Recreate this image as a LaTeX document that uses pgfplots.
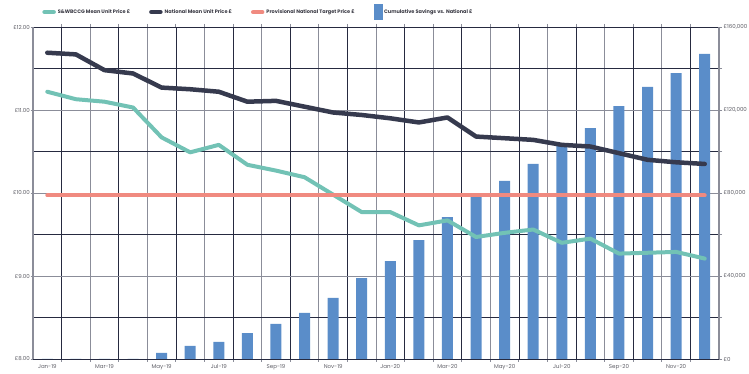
\documentclass[border=0pt]{standalone}
\usepackage{fontspec}
\setmainfont{Poppins}
\usepackage{pgfplots}
\pgfplotsset{compat=1.18}

\definecolor{tealc}{HTML}{72C2B5}
\definecolor{navy}{HTML}{363A4E}
\definecolor{salmon}{HTML}{F08A80}
\definecolor{barblue}{HTML}{5A8DC9}
\definecolor{gdark}{HTML}{262A40}
\definecolor{ggray}{HTML}{8B8D99}
\definecolor{lbl}{HTML}{5E5E66}
\definecolor{legtext}{HTML}{3A3A44}

\begin{document}
\begin{tikzpicture}[x=1pt,y=1pt]
\begin{axis}[
  at={(33pt,15pt)}, anchor=south west,
  scale only axis, width=686pt, height=332pt,
  xmin=-0.5, xmax=23.5, ymin=0, ymax=160000,
  scaled y ticks=false,
  separate axis lines,
  x axis line style={gdark, line width=0.9pt},
  y axis line style={ggray, line width=1.2pt},
  xtick={1.5,3.5,...,21.5}, minor xtick={0.5,2.5,...,22.5},
  xticklabels={},
  ytick={0,40000,...,160000}, minor ytick={20000,60000,100000,140000},
  ytick pos=right,
  yticklabel pos=right,
  yticklabels={£0,{£40,000},{£80,000},{£120,000},{£160,000}},
  yticklabel style={font=\fontsize{5.5}{6}\selectfont, color=lbl, anchor=west, inner sep=0.5pt, xshift=1pt},
  grid=both,
  major grid style={ggray, line width=0.9pt},
  minor grid style={gdark, line width=0.8pt},
  tick align=outside,
  major tick length=3pt, minor tick length=3pt,
  every tick/.style={ggray, line width=0.9pt},
  extra x ticks={0,2,...,22},
  extra x tick labels={Jan-19,Mar-19,May-19,Jul-19,Sep-19,Nov-19,Jan-20,Mar-20,May-20,Jul-20,Sep-20,Nov-20},
  extra x tick style={major tick length=0pt, grid=none,
    xticklabel style={font=\fontsize{5.5}{6}\selectfont, color=lbl, yshift=-2pt}},
]
\addplot[ybar, bar width=0.385, bar shift=0pt, fill=barblue, draw=none] coordinates {
(0,0) (1,0) (2,0) (3,0) (4,2900) (5,6300) (6,8200) (7,12500) (8,16900) (9,22200)
(10,29400) (11,39000) (12,47200) (13,57300) (14,68400) (15,78500) (16,85800)
(17,94000) (18,102800) (19,111300) (20,121900) (21,131100) (22,137800) (23,147000)};
\end{axis}

\begin{axis}[
  at={(33pt,15pt)}, anchor=south west,
  scale only axis, width=686pt, height=332pt,
  xmin=-0.5, xmax=23.5, ymin=8, ymax=12,
  axis x line=none, axis y line*=left,
  y axis line style={ggray, line width=1.2pt},
  ytick={8,9,10,11,12}, yticklabels={£8.00,£9.00,£10.00,£11.00,£12.00},
  tick align=outside, major tick length=2.5pt,
  ytick style={ggray, line width=0.8pt},
  yticklabel style={font=\fontsize{5.5}{6}\selectfont, color=lbl, inner sep=0.5pt},
  legend columns=4,
  legend cell align=left,
  legend style={at={(0.009,1.045)}, anchor=west, draw=none, fill=none,
    font=\fontsize{5}{6}\selectfont\bfseries, text=legtext,
    /tikz/every even column/.append style={column sep=17pt}},
]
\addplot[tealc, line width=4pt, line join=round, line cap=round,
  legend image code/.code={\draw[tealc, line width=4.5pt, line cap=round] (0pt,0pt) -- (9pt,0pt);}]
coordinates {
(0,11.22) (1,11.13) (2,11.10) (3,11.03) (4,10.67) (5,10.49) (6,10.58) (7,10.34)
(8,10.27) (9,10.19) (10,9.98) (11,9.77) (12,9.77) (13,9.61) (14,9.67) (15,9.47)
(16,9.52) (17,9.56) (18,9.40) (19,9.45) (20,9.27) (21,9.28) (22,9.29) (23,9.21)};
\addlegendentry{S\&WBCCG Mean Unit Price £}
\addplot[navy, line width=4.5pt, line join=round, line cap=round,
  legend image code/.code={\draw[navy, line width=4.5pt, line cap=round] (0pt,0pt) -- (9pt,0pt);}]
coordinates {
(0,11.69) (1,11.67) (2,11.48) (3,11.44) (4,11.27) (5,11.25) (6,11.22) (7,11.10)
(8,11.11) (9,11.04) (10,10.97) (11,10.94) (12,10.90) (13,10.85) (14,10.91) (15,10.68)
(16,10.66) (17,10.64) (18,10.58) (19,10.56) (20,10.48) (21,10.40) (22,10.37) (23,10.35)};
\addlegendentry{National Mean Unit Price £}
\addplot[salmon, line width=4pt, line cap=round,
  legend image code/.code={\draw[salmon, line width=4.5pt, line cap=round] (0pt,0pt) -- (9pt,0pt);}]
coordinates {(0,9.97) (23,9.97)};
\addlegendentry{Provisional National Target Price £}
\addlegendimage{legend image code/.code={\fill[barblue] (1pt,-7.5pt) rectangle (9pt,7.5pt);}}
\addlegendentry{Cumulative Savings vs. National £}
\end{axis}
\pgfresetboundingbox
\useasboundingbox (0,0) rectangle (749,374);
\end{tikzpicture}
\end{document}
